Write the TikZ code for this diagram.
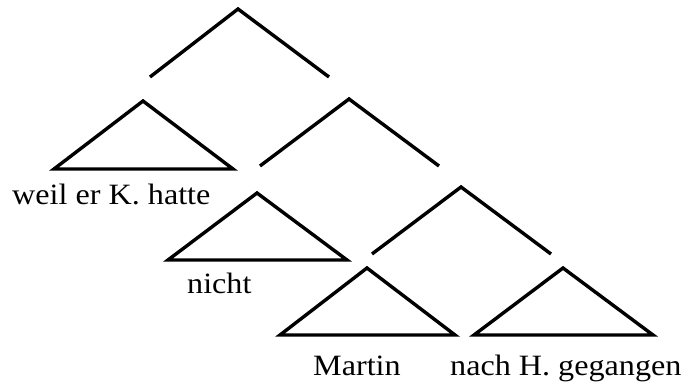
\documentclass[tikz,border=0pt]{standalone}
\usepackage{fontspec}
\setmainfont{Liberation Serif}[FakeStretch=1.09]
\begin{document}
\begin{tikzpicture}[x=1pt,y=-1pt,
  branch/.style={line width=3.4pt,line join=miter},
  leaf/.style={line width=3.4pt,line join=miter},
  word/.style={anchor=base west,inner sep=0pt,font=\fontsize{29.5}{32}\selectfont}]
\useasboundingbox (0,0) rectangle (683,390);

% top branching node
\coordinate (t0) at (238,9);
\coordinate (t0l) at (150,77);
\coordinate (t0r) at (329,77);
\draw[branch] (t0l) -- (t0) -- (t0r);

% triangle: weil er K. hatte
\coordinate (a1) at (143,101);
\coordinate (a1l) at (54,169);
\coordinate (a1r) at (233,169);
\draw[leaf] (a1) -- (a1l) -- (a1r) -- cycle;
\node[word] (w1) at (12,205) {weil er K. hatte};

% second branching node
\coordinate (t1) at (349,99);
\coordinate (t1l) at (260,166);
\coordinate (t1r) at (439,166);
\draw[branch] (t1l) -- (t1) -- (t1r);

% triangle: nicht
\coordinate (a2) at (257,193);
\coordinate (a2l) at (168,260);
\coordinate (a2r) at (347,260);
\draw[leaf] (a2) -- (a2l) -- (a2r) -- cycle;
\node[word] (w2) at (187,294) {nicht};

% third branching node
\coordinate (t2) at (461,187);
\coordinate (t2l) at (372,254);
\coordinate (t2r) at (551,254);
\draw[branch] (t2l) -- (t2) -- (t2r);

% triangle: Martin
\coordinate (a3) at (367,268);
\coordinate (a3l) at (280,335);
\coordinate (a3r) at (455,335);
\draw[leaf] (a3) -- (a3l) -- (a3r) -- cycle;
\node[word] (w3) at (313,375) {Martin};

% triangle: nach H. gegangen
\coordinate (a4) at (563,268);
\coordinate (a4l) at (474,335);
\coordinate (a4r) at (653,335);
\draw[leaf] (a4) -- (a4l) -- (a4r) -- cycle;
\node[word] (w4) at (450,375) {nach H. gegangen};
\end{tikzpicture}
\end{document}
